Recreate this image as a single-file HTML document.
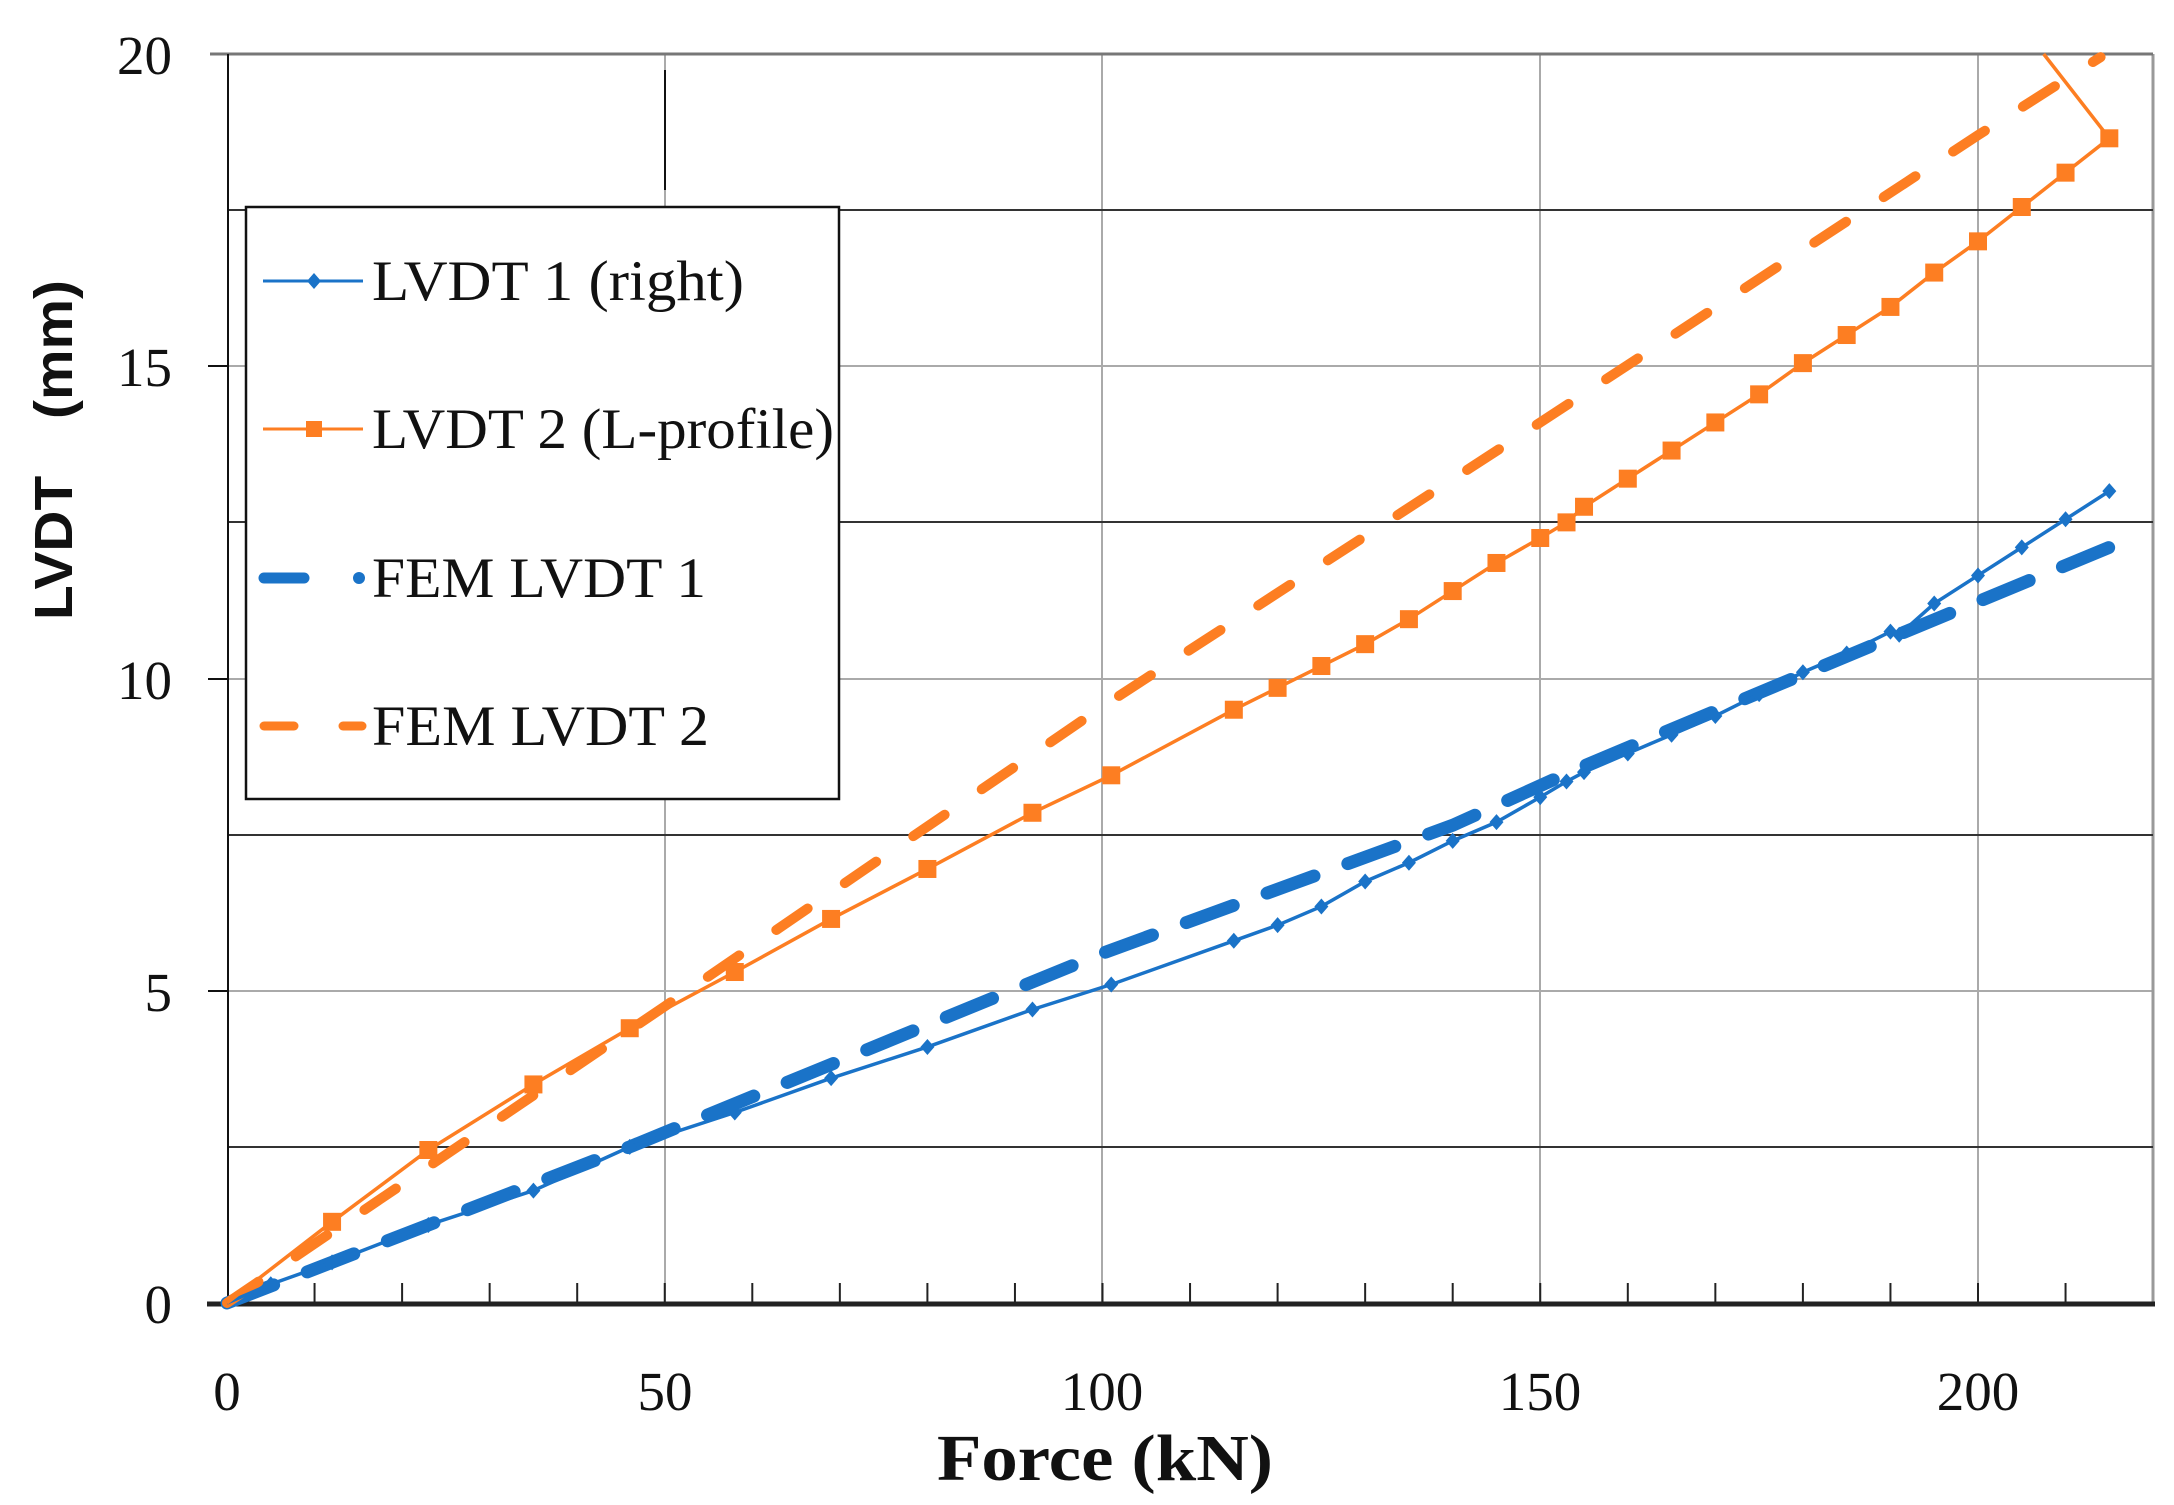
<!DOCTYPE html>
<html><head><meta charset="utf-8"><style>
html,body{margin:0;padding:0;background:#fff;width:2174px;height:1505px;overflow:hidden}
svg{display:block}
.t{font-family:"Liberation Serif",serif;font-size:57px;fill:#111}
.k{font-family:"Liberation Serif",serif;font-size:55px;fill:#111}
</style></head><body>
<svg width="2174" height="1505" viewBox="0 0 2174 1505" xmlns="http://www.w3.org/2000/svg">
<g stroke="#aaa" stroke-width="2">
<line x1="227" y1="991" x2="2153" y2="991"/>
<line x1="227" y1="679" x2="2153" y2="679"/>
<line x1="227" y1="366" x2="2153" y2="366"/>
<line x1="665" y1="54" x2="665" y2="1303"/>
<line x1="1102" y1="54" x2="1102" y2="1303"/>
<line x1="1540" y1="54" x2="1540" y2="1303"/>
<line x1="1978" y1="54" x2="1978" y2="1303"/>
<line x1="2153" y1="54" x2="2153" y2="1303" stroke="#999" stroke-width="3"/>
</g>
<g stroke="#333" stroke-width="2">
<line x1="227" y1="1147" x2="2153" y2="1147"/>
<line x1="227" y1="835" x2="2153" y2="835"/>
<line x1="227" y1="522" x2="2153" y2="522"/>
<line x1="227" y1="210" x2="2153" y2="210"/>
<line x1="210" y1="54" x2="2153" y2="54" stroke="#777" stroke-width="3"/>
<line x1="665" y1="70" x2="665" y2="190" stroke="#111"/>
</g>
<g stroke="#111" stroke-width="2">
<line x1="228" y1="54" x2="228" y2="1303"/>
<line x1="208" y1="366" x2="228" y2="366"/>
<line x1="208" y1="679" x2="228" y2="679"/>
<line x1="208" y1="991" x2="228" y2="991"/>
<line x1="208" y1="1303" x2="228" y2="1303"/>
</g>
<line x1="207" y1="1304" x2="2155" y2="1304" stroke="#222" stroke-width="5"/>
<g stroke="#222" stroke-width="2" id="ticks"></g>
<g id="data"></g>
<rect x="246" y="207" width="593" height="592" fill="#fff" stroke="#111" stroke-width="2.5"/>
<line x1="263" y1="281" x2="363" y2="281" stroke="#1a73c8" stroke-width="3"/>
<path d="M314 273 L321 281 L314 289 L307 281 Z" fill="#1a73c8"/>
<line x1="263" y1="429" x2="363" y2="429" stroke="#fd7e22" stroke-width="3"/>
<rect x="306" y="421" width="16" height="16" fill="#fd7e22"/>
<line x1="264" y1="578" x2="304" y2="578" stroke="#1a73c8" stroke-width="11" stroke-linecap="round"/>
<circle cx="359" cy="578" r="6" fill="#1a73c8"/>
<line x1="264" y1="726" x2="294" y2="726" stroke="#fd7e22" stroke-width="9" stroke-linecap="round"/>
<line x1="343" y1="726" x2="362" y2="726" stroke="#fd7e22" stroke-width="9" stroke-linecap="round"/>
<text class="t" x="372" y="300" textLength="372" lengthAdjust="spacingAndGlyphs">LVDT 1 (right)</text>
<text class="t" x="372" y="448" textLength="462" lengthAdjust="spacingAndGlyphs">LVDT 2 (L-profile)</text>
<text class="t" x="372" y="597" textLength="334" lengthAdjust="spacingAndGlyphs">FEM LVDT 1</text>
<text class="t" x="372" y="745" textLength="337" lengthAdjust="spacingAndGlyphs">FEM LVDT 2</text>
<g class="k" text-anchor="end">
<text x="172" y="74">20</text>
<text x="172" y="386">15</text>
<text x="172" y="699">10</text>
<text x="172" y="1011">5</text>
<text x="172" y="1323">0</text>
</g>
<g class="k" text-anchor="middle">
<text x="227" y="1410">0</text>
<text x="665" y="1410">50</text>
<text x="1102" y="1410">100</text>
<text x="1540" y="1410">150</text>
<text x="1978" y="1410">200</text>
</g>
<text x="1105" y="1480" text-anchor="middle" style="font-family:'Liberation Serif',serif;font-weight:bold;font-size:66px;fill:#111" textLength="336" lengthAdjust="spacingAndGlyphs">Force (kN)</text>
<text transform="translate(72,450) rotate(-90)" text-anchor="middle" style="font-family:'Liberation Sans',sans-serif;font-weight:bold;font-size:54px;fill:#111" textLength="340" lengthAdjust="spacingAndGlyphs">LVDT　(mm)</text>
<script>
var X=f=>227+f*8.755, Y=v=>1303-v*62.45, ns="http://www.w3.org/2000/svg";
var tk=document.getElementById('ticks');
for(var f=10;f<=210;f+=10){var l=document.createElementNS(ns,'line');l.setAttribute('x1',X(f));l.setAttribute('x2',X(f));l.setAttribute('y1',1283);l.setAttribute('y2',1303);tk.appendChild(l);}
var d=document.getElementById('data');
function pl(pts,attrs){var p=document.createElementNS(ns,'polyline');p.setAttribute('points',pts.map(a=>X(a[0])+','+Y(a[1])).join(' '));p.setAttribute('fill','none');for(var k in attrs)p.setAttribute(k,attrs[k]);d.appendChild(p);}
var fem1=[[0,0],[46,2.5],[100,5.6],[140,7.65],[155,8.6],[190,10.65],[215,12.1]];
var fem2=[[0,0],[50,4.75],[100,9.55],[150,14.1],[200,18.7],[214,19.95]];
pl(fem1,{stroke:'#1a73c8','stroke-width':13,'stroke-dasharray':'50 36','stroke-linecap':'round'});
pl(fem2,{stroke:'#fd7e22','stroke-width':10,'stroke-dasharray':'38 45','stroke-linecap':'round'});
var l1=[[0,0],[5,0.3],[12,0.65],[23,1.25],[35,1.8],[46,2.5],[58,3.05],[69,3.6],[80,4.1],[92,4.7],[101,5.1],[115,5.8],[120,6.05],[125,6.35],[130,6.75],[135,7.05],[140,7.4],[145,7.7],[150,8.1],[153,8.35],[155,8.5],[160,8.8],[165,9.1],[170,9.4],[175,9.75],[180,10.1],[185,10.4],[190,10.75],[191,10.7],[195,11.2],[200,11.65],[205,12.1],[210,12.55],[215,13.0]];
var l2=[[0,0],[12,1.3],[23,2.45],[35,3.5],[46,4.4],[58,5.3],[69,6.15],[80,6.95],[92,7.85],[101,8.45],[115,9.5],[120,9.85],[125,10.2],[130,10.55],[135,10.95],[140,11.4],[145,11.85],[150,12.25],[153,12.5],[155,12.75],[160,13.2],[165,13.65],[170,14.1],[175,14.55],[180,15.05],[185,15.5],[190,15.95],[195,16.5],[200,17.0],[205,17.55],[210,18.1],[215,18.65]];
pl(l1,{stroke:'#1a73c8','stroke-width':3.5});
pl(l2.concat([[207.5,20]]),{stroke:'#fd7e22','stroke-width':3.5});
l1.slice(1).forEach(a=>{var p=document.createElementNS(ns,'path');var x=X(a[0]),y=Y(a[1]);p.setAttribute('d','M'+x+' '+(y-8)+'L'+(x+7)+' '+y+'L'+x+' '+(y+8)+'L'+(x-7)+' '+y+'Z');p.setAttribute('fill','#1a73c8');d.appendChild(p);});
l2.slice(1).forEach(a=>{var r=document.createElementNS(ns,'rect');r.setAttribute('x',X(a[0])-9);r.setAttribute('y',Y(a[1])-9);r.setAttribute('width',18);r.setAttribute('height',18);r.setAttribute('fill','#fd7e22');d.appendChild(r);});
</script>
</svg>
</body></html>
